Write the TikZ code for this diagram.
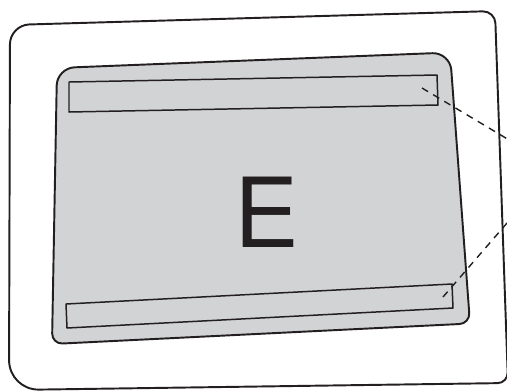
\documentclass[tikz,border=0pt]{standalone}
\usepackage{fontspec}
\usepackage{tikz}
\usetikzlibrary{positioning,calc}
\newfontfamily\labelfont{TeX Gyre Heros}
\definecolor{ink}{HTML}{231F20}
\definecolor{panel}{HTML}{D2D3D5}

\begin{document}
\begin{tikzpicture}[x=0.02cm,y=-0.02cm,line join=round,
 frame/.style={draw=ink,line width=1.1pt,fill=white},
 screen/.style={draw=ink,line width=1.1pt,fill=panel},
 strip/.style={draw=ink,line width=0.85pt,fill=panel},
 lead/.style={draw=ink,line width=0.8pt,dash pattern=on 4pt off 3.4pt}]
\useasboundingbox (0,0) rectangle (507,390);
\clip (0,0) rectangle (507,390);
% housing
\coordinate (oTL) at (10,25); \coordinate (oTR) at (495,11);
\coordinate (oBR) at (508,383); \coordinate (oBL) at (9,390);
\draw[frame] ($(oTL)!0.5!(oTR)$) [rounded corners=7pt] -- (oTR) [rounded corners=6pt] -- (oBR)
 [rounded corners=17pt] -- (oBL) [rounded corners=11pt] -- (oTL) -- cycle;
% display
\coordinate (sTL) at (57,68); \coordinate (sTR) at (450,52.5);
\coordinate (sBR) at (470,323.5); \coordinate (sBL) at (52,344);
\draw[screen] ($(sTL)!0.5!(sTR)$) [rounded corners=10pt] -- (sTR)
 [rounded corners=6pt] -- (sBR) [rounded corners=6pt] -- (sBL)
 [rounded corners=10pt] -- (sTL) -- cycle;
% strips
\draw[strip] (69,82) -- (437,75) -- (438,105) -- (69,112) -- cycle;
\draw[strip] (66,304) -- (452,284) -- (453,308) -- (67,328) -- cycle;
% leader lines
\coordinate (topin) at (422,88); \coordinate (topout) at (520,146.5);
\coordinate (botin) at (443,297); \coordinate (botout) at (520,208);
\draw[lead] (topin) -- (topout);
\draw[lead] (botin) -- (botout);
\node[anchor=base,inner sep=0pt,text=ink,font=\labelfont\fontsize{55}{60}\selectfont] (lbl) at (267,247) {E};
\end{tikzpicture}
\end{document}
